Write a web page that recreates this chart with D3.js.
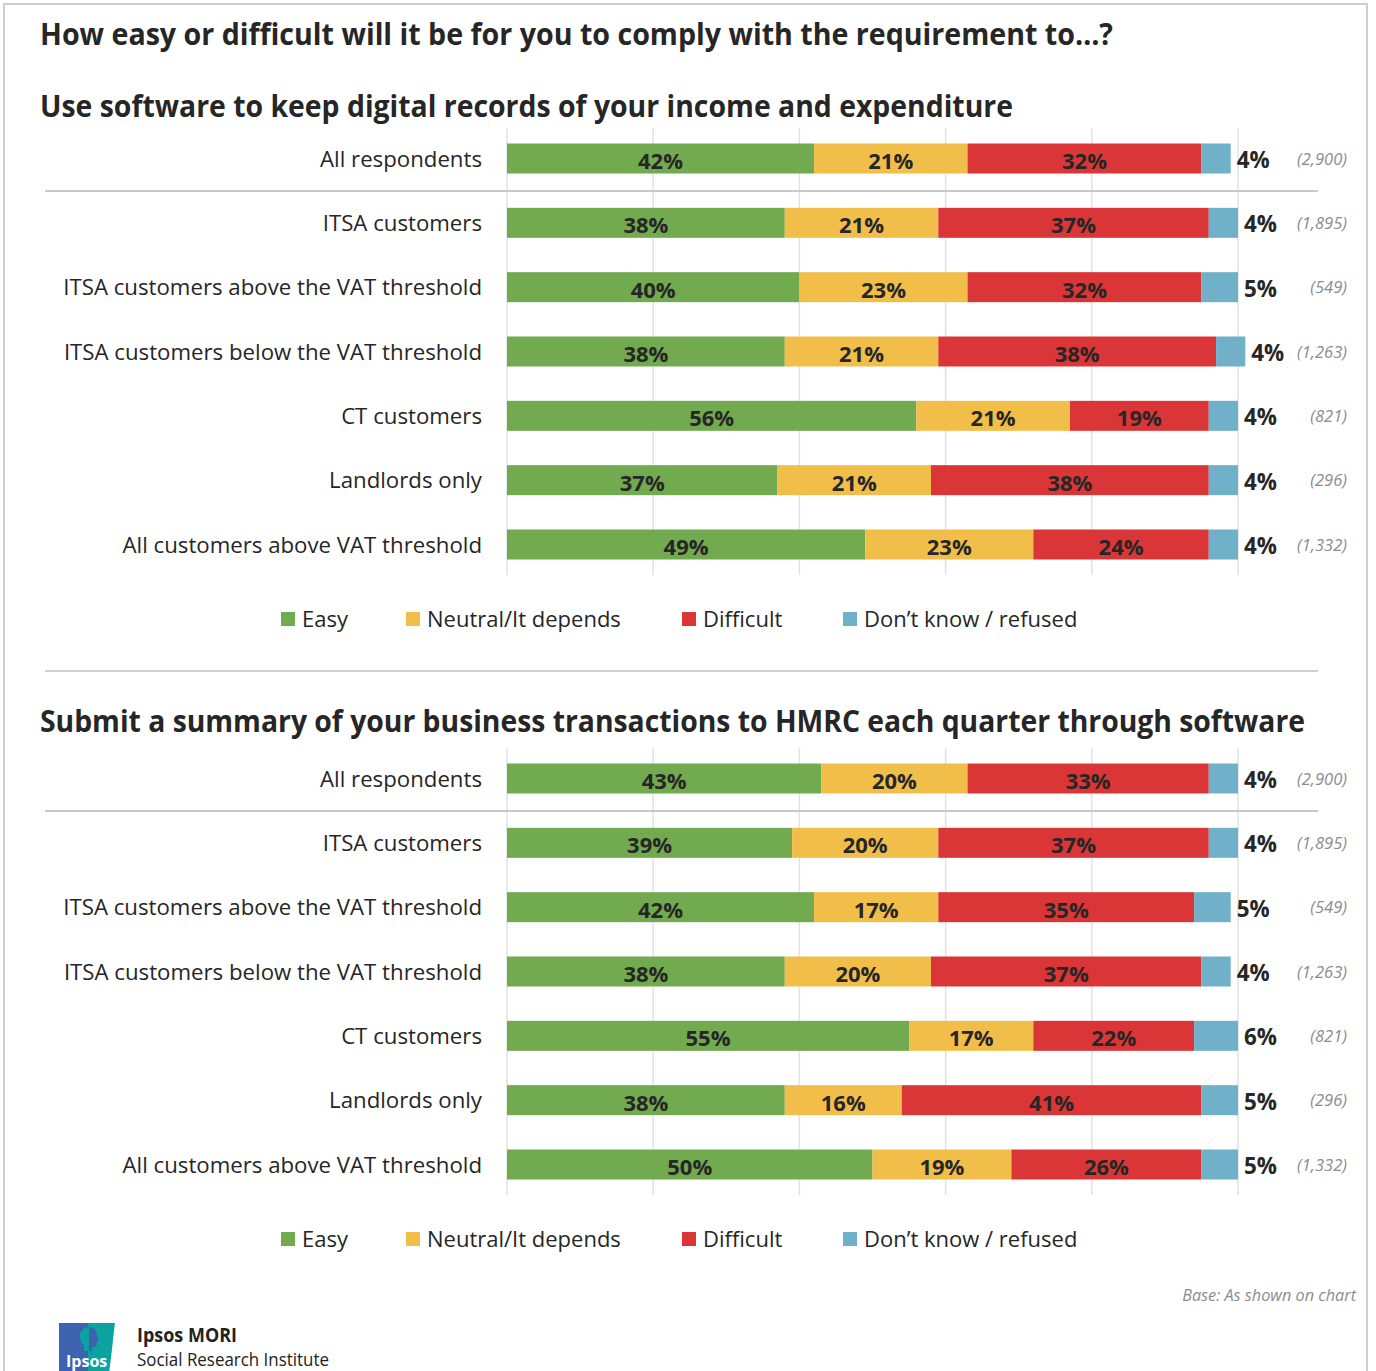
<!DOCTYPE html>
<html>
<head>
<meta charset="utf-8">
<script src="https://cdn.jsdelivr.net/npm/d3@7"></script>
<style>
  body { margin: 0; background: #fff; }
  svg { display: block; }
</style>
</head>
<body>
<svg id="chart" width="1376" height="1371"></svg>
<script>
// ---- Data ----
const categories = [
  "All respondents",
  "ITSA customers",
  "ITSA customers above the VAT threshold",
  "ITSA customers below the VAT threshold",
  "CT customers",
  "Landlords only",
  "All customers above VAT threshold"
];
const seriesNames = ["Easy", "Neutral/It depends", "Difficult", "Don\u2019t know / refused"];
const baseSizes = ["(2,900)", "(1,895)", "(549)", "(1,263)", "(821)", "(296)", "(1,332)"];

// Panel 1: keep digital records
const recordsEasy      = [42, 38, 40, 38, 56, 37, 49];
const recordsNeutral   = [21, 21, 23, 21, 21, 21, 23];
const recordsDifficult = [32, 37, 32, 38, 19, 38, 24];
const recordsDontKnow  = [4, 4, 5, 4, 4, 4, 4];

// Panel 2: quarterly summary
const quarterlyEasy      = [43, 39, 42, 38, 55, 38, 50];
const quarterlyNeutral   = [20, 20, 17, 20, 17, 16, 19];
const quarterlyDifficult = [33, 37, 35, 37, 22, 41, 26];
const quarterlyDontKnow  = [4, 4, 5, 4, 6, 5, 5];

const gridTicks = [0, 20, 40, 60, 80, 100];

const mainTitle = "How easy or difficult will it be for you to comply with the requirement to\u2026?";
const panelTitles = [
  "Use software to keep digital records of your income and expenditure",
  "Submit a summary of your business transactions to HMRC each quarter through software"
];

// ---- Styles ----
const FONT = "'Open Sans', 'Noto Sans', sans-serif";
const colors = ["#72aa4f", "#f2be4a", "#da3638", "#70b0c9"];
const TEXT = "#262626";

const svg = d3.select("#chart");

// font size at which a sample string reaches a given width
function sizeFor(text, weight, style, target) {
  const t = svg.append("text")
    .attr("font-family", FONT).attr("font-weight", weight)
    .attr("font-style", style).attr("font-size", 100).text(text);
  const w = t.node().getComputedTextLength();
  t.remove();
  return 100 * target / w;
}

// draw text at least fontSize tall, squeezed back to the width it has at widthSize
function narrow(sel, fontSize, widthSize) {
  const size = Math.max(fontSize, widthSize);
  const k = widthSize / size;
  sel.attr("font-size", size).each(function () {
    const len = this.getComputedTextLength();
    if (k < 1) {
      d3.select(this).attr("textLength", len * k).attr("lengthAdjust", "spacingAndGlyphs");
    }
  });
  return sel;
}

const fsTitle   = sizeFor(mainTitle, 700, "normal", 1073);
const fsSub1    = sizeFor(panelTitles[0], 700, "normal", 973);
const fsSub2    = sizeFor(panelTitles[1], 700, "normal", 1265);
const fsCat     = sizeFor(categories[2], 400, "normal", 419);
const fsLegend  = sizeFor("Neutral/It depends", 400, "normal", 194);
const fsSeg     = sizeFor("42%", 700, "normal", 45);
const fsOut     = sizeFor("4%", 700, "normal", 33);
const fsBase    = sizeFor("(2,900)", 400, "italic", 50);
const fsNote    = sizeFor("Base: As shown on chart", 400, "italic", 174);

// ---- Frame ----
svg.append("rect")
  .attr("x", 4).attr("y", 4).attr("width", 1363).attr("height", 1400)
  .attr("fill", "none").attr("stroke", "#cfcfcf").attr("stroke-width", 2);

// ---- Main title ----
narrow(svg.append("text")
  .attr("x", 40).attr("y", 45)
  .attr("font-family", FONT).attr("font-weight", 700)
  .attr("fill", TEXT).text(mainTitle), 30, fsTitle);

const x = d3.scaleLinear().domain([0, 100]).range([507, 1238]);

function drawPanel(offset, title, titleSize, titleY, easy, neutral, difficult, dontKnow) {
  const g = svg.append("g").attr("transform", `translate(0,${offset})`);

  narrow(g.append("text")
    .attr("x", 40).attr("y", titleY)
    .attr("font-family", FONT).attr("font-weight", 700)
    .attr("fill", TEXT).text(title), 29.5, titleSize);

  const y = d3.scalePoint().domain(categories).range([158.5, 544.5]);
  const barH = 30;

  // gridlines
  g.append("g").selectAll("line").data(gridTicks).join("line")
    .attr("x1", d => x(d)).attr("x2", d => x(d))
    .attr("y1", 128).attr("y2", 575)
    .attr("stroke", "#e2e2e2").attr("stroke-width", 1.5);

  // separator below the total row
  g.append("line")
    .attr("x1", 45).attr("x2", 1318).attr("y1", 191).attr("y2", 191)
    .attr("stroke", "#c9c9c9").attr("stroke-width", 2);

  const rows = categories.map((c, i) => ({
    category: c,
    [seriesNames[0]]: easy[i],
    [seriesNames[1]]: neutral[i],
    [seriesNames[2]]: difficult[i],
    [seriesNames[3]]: dontKnow[i],
    base: baseSizes[i]
  }));
  const stacked = d3.stack().keys(seriesNames)(rows);

  const layers = g.append("g").selectAll("g").data(stacked).join("g")
    .attr("fill", (d, i) => colors[i]);

  layers.selectAll("rect").data(d => d.map(p => ({ p, key: d.key })))
    .join("rect")
    .attr("x", d => x(d.p[0]))
    .attr("y", d => y(d.p.data.category) - barH / 2)
    .attr("width", d => x(d.p[1]) - x(d.p[0]))
    .attr("height", barH);

  // labels inside segments
  layers.filter((d, i) => i < 3).selectAll("text").data(d => d.map(p => ({ p, key: d.key })))
    .join("text")
    .attr("x", d => (x(d.p[0]) + x(d.p[1])) / 2)
    .attr("y", d => y(d.p.data.category) + 10.5)
    .attr("text-anchor", "middle")
    .attr("font-family", FONT).attr("font-weight", 700).attr("font-size", fsSeg)
    .attr("fill", TEXT)
    .text(d => d.p.data[d.key] + "%");

  // don't know labels outside bars
  g.append("g").selectAll("text").data(stacked[3]).join("text")
    .attr("x", d => x(d[1]) + 6)
    .attr("y", d => y(d.data.category) + 9.5)
    .attr("font-family", FONT).attr("font-weight", 700).attr("font-size", fsOut)
    .attr("fill", TEXT)
    .text(d => d.data[seriesNames[3]] + "%");

  // base sizes
  g.append("g").selectAll("text").data(rows).join("text")
    .attr("x", 1347)
    .attr("y", d => y(d.category) + 6)
    .attr("text-anchor", "end")
    .attr("font-family", FONT).attr("font-style", "italic").attr("font-size", fsBase)
    .attr("fill", "#8c8c8c")
    .text(d => d.base);

  // category labels
  narrow(g.append("g").selectAll("text").data(categories).join("text")
    .attr("x", 482)
    .attr("y", d => y(d) + 8)
    .attr("text-anchor", "end")
    .attr("font-family", FONT)
    .attr("fill", TEXT)
    .text(d => d), 21.5, fsCat);

  // legend
  const legendX = [281, 406, 682, 843];
  const lg = g.append("g").selectAll("g").data(seriesNames).join("g")
    .attr("transform", (d, i) => `translate(${legendX[i]},619)`);
  lg.append("rect").attr("x", 0).attr("y", -7).attr("width", 14).attr("height", 14)
    .attr("fill", (d, i) => colors[i]);
  narrow(lg.append("text").attr("x", 21).attr("y", 8)
    .attr("font-family", FONT).attr("fill", TEXT)
    .text(d => d), 21.5, fsLegend);
}

drawPanel(0, panelTitles[0], fsSub1, 117, recordsEasy, recordsNeutral, recordsDifficult, recordsDontKnow);

// divider between panels
svg.append("line")
  .attr("x1", 45).attr("x2", 1318).attr("y1", 671).attr("y2", 671)
  .attr("stroke", "#d0d0d0").attr("stroke-width", 2);

drawPanel(620, panelTitles[1], fsSub2, 112, quarterlyEasy, quarterlyNeutral, quarterlyDifficult, quarterlyDontKnow);

// base note
svg.append("text")
  .attr("x", 1356).attr("y", 1301)
  .attr("text-anchor", "end")
  .attr("font-family", FONT).attr("font-style", "italic").attr("font-size", fsNote)
  .attr("fill", "#8c8c8c")
  .text("Base: As shown on chart");

// ---- Logo ----
const logo = svg.append("g").attr("transform", "translate(59,1323)");
logo.append("rect").attr("x", 0).attr("y", 0).attr("width", 30).attr("height", 50).attr("fill", "#3d63ae");
logo.append("path")
  .attr("d", "M29,0 L56,0 C54,14 53,30 50,50 L29,50 Z")
  .attr("fill", "#0aa3a0");
// head silhouette, split across the two halves
logo.append("path")
  .attr("d", "M30,4 C24,4 20,9 21,15 C22,19 24,21 25,23 L25,28 L30,28 Z")
  .attr("fill", "#0aa3a0");
logo.append("path")
  .attr("d", "M30,4 C35,4 38,8 38,13 L40,17 L38,18 L38,22 C37,24 34,24 33,24 L33,28 L30,28 Z")
  .attr("fill", "#3d63ae");
logo.append("text")
  .attr("x", 7).attr("y", 44)
  .attr("font-family", FONT).attr("font-weight", 700).attr("font-size", 16)
  .attr("fill", "#fff").text("Ipsos");

narrow(svg.append("text")
  .attr("x", 137).attr("y", 1342)
  .attr("font-family", FONT).attr("font-weight", 700)
  .attr("fill", "#222").text("Ipsos MORI"), 19, sizeFor("Ipsos MORI", 700, "normal", 100));
narrow(svg.append("text")
  .attr("x", 137).attr("y", 1366)
  .attr("font-family", FONT)
  .attr("fill", "#222").text("Social Research Institute"), 19, sizeFor("Social Research Institute", 400, "normal", 192));
</script>
</body>
</html>
